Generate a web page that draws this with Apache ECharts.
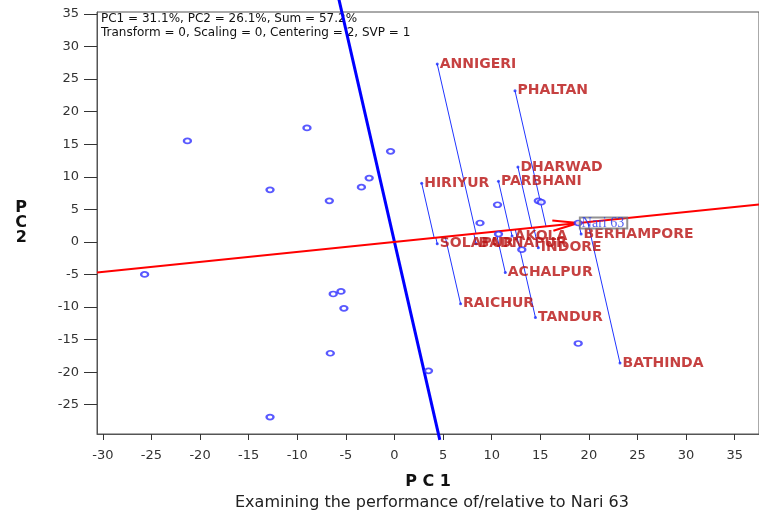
<!DOCTYPE html>
<html>
<head>
<meta charset="utf-8">
<title>GGE biplot</title>
<script src="https://cdn.jsdelivr.net/npm/echarts@6/dist/echarts.min.js"></script>
<style>
  html, body { margin: 0; padding: 0; background: #fff; }
  #chart { width: 759px; height: 514px; }
</style>
</head>
<body>
<div id="chart"></div>
<script>
// genotypes (open circles), PC1 / PC2 scores
const genoPC1 = [-21.3, -9.0, -0.4, -2.6, -3.4, -12.8, -6.7, -25.7, -6.3, -5.5, -5.2, -6.6, -12.8, 3.5, 18.9, 10.6, 14.8, 15.1, 8.8, 10.7, 13.1];
const genoPC2 = [15.5, 17.5, 13.9, 9.8, 8.4, 8.0, 6.3, -5.0, -8.0, -7.6, -10.2, -17.1, -26.9, -19.8, -15.6, 5.7, 6.3, 6.1, 2.9, 1.2, -1.2];

// reference genotype
const refName = 'Nari 63';
const refPC1 = 18.9;
const refPC2 = 2.9;

// environments
const envNames = ['ANNIGERI', 'PHALTAN', 'DHARWAD', 'HIRIYUR', 'PARBHANI', 'BATHINDA', 'TANDUR', 'RAICHUR', 'ACHALPUR', 'SOLAPUR', 'BADNAPUR', 'AKOLA', 'INDORE', 'BERHAMPORE'];
const envPC1 = [4.4, 12.4, 12.7, 2.8, 10.7, 23.2, 14.5, 6.8, 11.4, 4.4, 8.4, 12.1, 14.8, 19.2];
const envPC2 = [27.3, 23.2, 11.5, 9.0, 9.3, -18.6, -11.6, -9.5, -4.7, -0.3, -0.3, 0.9, -0.9, 1.2];

// tick labels
const xTicks = [-30, -25, -20, -15, -10, -5, 0, 5, 10, 15, 20, 25, 30, 35];
const yTicks = [-25, -20, -15, -10, -5, 0, 5, 10, 15, 20, 25, 30, 35];

const infoLines = ['PC1 = 31.1%, PC2 = 26.1%, Sum = 57.2%', 'Transform = 0, Scaling = 0, Centering = 2, SVP = 1'];
const subtitle = 'Examining the performance of/relative to Nari 63';

const xMin = -30.6, xMax = 37.5, yMin = -29.5, yMax = 35.3;

// axis through the origin and the reference genotype, and its perpendicular
const k = refPC2 / refPC1;
const refLine = [[xMin, xMin * k], [xMax, xMax * k]];
const perpLine = [[-37.5 * k, 37.5], [30.4 * k, -30.4]];

// projection of each environment onto the reference axis
const rr = refPC1 * refPC1 + refPC2 * refPC2;
const projLines = envNames.map(function (n, i) {
    const t = (envPC1[i] * refPC1 + envPC2[i] * refPC2) / rr;
    return { coords: [[envPC1[i], envPC2[i]], [t * refPC1, t * refPC2]] };
});

const envData = envNames.map(function (n, i) { return { name: n, value: [envPC1[i], envPC2[i]] }; });
const genoData = genoPC1.map(function (x, i) { return [x, genoPC2[i]]; });

const sans = 'DejaVu Sans';

let myChart = echarts.init(document.getElementById('chart'));
myChart.setOption({
    animation: false,
    grid: {
        left: 97, right: -2, top: 12, bottom: 80,
        show: true, borderColor: '#555', borderWidth: 1
    },
    xAxis: {
        type: 'value', min: xMin, max: xMax,
        axisLine: { show: true, onZero: false, lineStyle: { color: '#555' } },
        axisTick: { show: true, length: 6, customValues: xTicks, lineStyle: { color: '#333' } },
        axisLabel: { customValues: xTicks, fontFamily: sans, fontSize: 13, color: '#333', margin: 15 },
        splitLine: { show: false },
        name: 'P C 1', nameLocation: 'middle', nameGap: 40,
        nameTextStyle: { fontFamily: sans, fontWeight: 'bold', fontSize: 16, color: '#111' }
    },
    yAxis: {
        type: 'value', min: yMin, max: yMax,
        axisLine: { show: true, onZero: false, lineStyle: { color: '#555' } },
        axisTick: { show: true, length: 13, customValues: yTicks, lineStyle: { color: '#333' } },
        axisLabel: { customValues: yTicks, fontFamily: sans, fontSize: 13, color: '#333', margin: 18 },
        splitLine: { show: false },
        name: 'P\nC\n2', nameLocation: 'middle', nameGap: 70, nameRotate: 0,
        nameTextStyle: { fontFamily: sans, fontWeight: 'bold', fontSize: 16, lineHeight: 15, color: '#111' }
    },
    graphic: [
        { type: 'text', left: 101, top: 13, style: { text: infoLines[0], font: '12px "DejaVu Sans"', fill: '#111' } },
        { type: 'text', left: 101, top: 27, style: { text: infoLines[1], font: '12px "DejaVu Sans"', fill: '#111' } },
        { type: 'text', left: 235, top: 495, style: { text: subtitle, font: '16px "DejaVu Sans"', fill: '#222' } }
    ],
    series: [
        {
            type: 'line', data: perpLine, symbol: 'none', clip: false, silent: true, z: 2,
            lineStyle: { color: '#0000ff', width: 3 }
        },
        {
            type: 'lines', coordinateSystem: 'cartesian2d', data: projLines, silent: true, z: 2,
            lineStyle: { color: '#2035ff', width: 1, opacity: 1 }
        },
        {
            type: 'line', data: refLine, symbol: 'none', silent: true, z: 3,
            lineStyle: { color: '#ff0000', width: 2 }
        },
        {
            id: 'arrow', type: 'lines', coordinateSystem: 'cartesian2d', silent: true, z: 3,
            data: [],
            lineStyle: { color: '#ff0000', width: 2, opacity: 1 }
        },
        {
            type: 'scatter', data: genoData, symbol: 'emptyCircle', symbolSize: [7, 5], z: 4,
            itemStyle: { color: '#3030ff', borderWidth: 1.3 }
        },
        {
            type: 'scatter', data: envData, symbol: 'circle', symbolSize: 3, z: 5,
            itemStyle: { color: '#1a2cff' },
            label: {
                show: true, position: 'right', distance: 1, formatter: '{b}',
                fontFamily: sans, fontWeight: 'bold', fontSize: 14, color: '#b81212'
            }
        },
        {
            type: 'scatter', data: [{ name: refName, value: [refPC1, refPC2] }],
            symbol: 'emptyCircle', symbolSize: [7, 5], z: 6,
            itemStyle: { color: '#3030ff', borderWidth: 1.3 },
            label: {
                show: true, position: 'right', distance: -3, formatter: '{b}',
                fontFamily: 'Liberation Serif', fontSize: 14, lineHeight: 11, color: '#2233ee',
                borderColor: '#777', borderWidth: 1, padding: [0, 3, 0, 2], backgroundColor: 'rgba(255,255,255,0)'
            }
        }
    ]
});

// open arrow head at the reference genotype, barbs drawn in screen space
const p0 = myChart.convertToPixel({ gridIndex: 0 }, [0, 0]);
const p1 = myChart.convertToPixel({ gridIndex: 0 }, [refPC1, refPC2]);
const ang = Math.atan2(p1[1] - p0[1], p1[0] - p0[0]) + Math.PI;
const barbs = [-0.2, 0.2].map(function (d) {
    const q = [p1[0] + 26 * Math.cos(ang + d), p1[1] + 26 * Math.sin(ang + d)];
    return { coords: [[refPC1, refPC2], myChart.convertFromPixel({ gridIndex: 0 }, q)] };
});
myChart.setOption({ series: [{ id: 'arrow', data: barbs }] });
</script>
</body>
</html>
